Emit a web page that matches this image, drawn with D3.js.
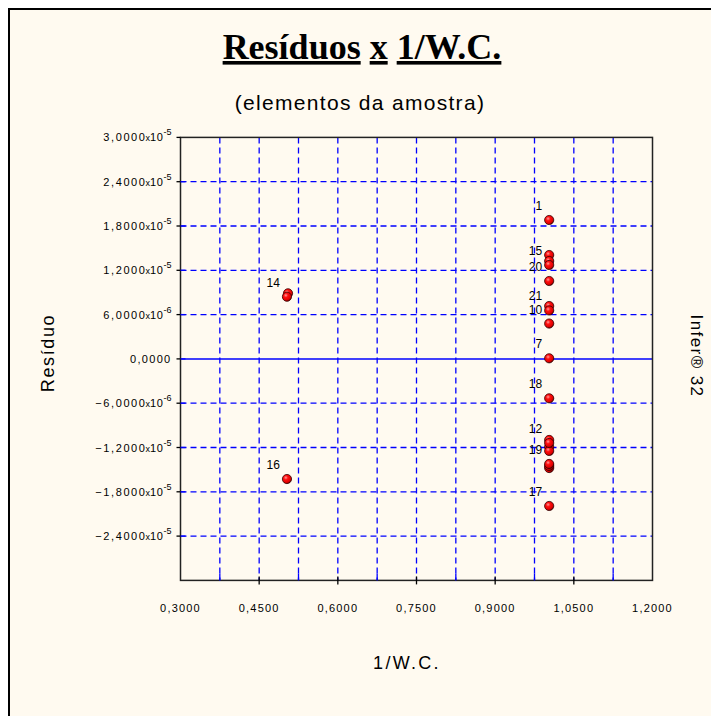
<!DOCTYPE html>
<html>
<head>
<meta charset="utf-8">
<script src="https://cdn.jsdelivr.net/npm/d3@7"></script>
<style>
  html, body { margin: 0; padding: 0; background: #ffffff; }
  svg { display: block; }
</style>
</head>
<body>
<svg id="chart" width="711" height="716"></svg>
<script>
// Sample number, 1/W.C. and residual for each element of the sample
const sampleIds = [1, 2, 3, 4, 5, 6, 7, 8, 9, 10, 11, 12, 13, 14, 15, 16, 17, 18, 19, 20, 21];
const invWC = [1.003, 1.003, 0.505, 1.003, 1.003, 1.003, 1.003, 1.003, 1.003, 1.003, 1.003,
               1.003, 1.003, 0.503, 1.003, 0.503, 1.003, 1.003, 1.003, 1.003, 1.003];
const residuals = [1.881e-5, 1.407e-5, 0.888e-5, 1.326e-5, -1.098e-5, -1.193e-5, 0.008e-5, -1.247e-5, -1.478e-5, 0.479e-5, -1.450e-5,
                   -1.139e-5, 0.716e-5, 0.842e-5, 1.272e-5, -1.627e-5, -1.992e-5, -0.534e-5, -1.423e-5, 1.055e-5, 0.656e-5];
// Labels printed next to the points (the others sit under later labels)
const pointLabels = ["1", "", "", "", "", "", "7", "", "", "10", "",
                     "12", "", "14", "15", "16", "17", "18", "19", "20", "21"];

const xTicks = [0.3, 0.45, 0.6, 0.75, 0.9, 1.05, 1.2];
const xMinorTicks = [0.375, 0.525, 0.675, 0.825, 0.975, 1.125];
const yTicks = [3e-5, 2.4e-5, 1.8e-5, 1.2e-5, 6e-6, 0, -6e-6, -1.2e-5, -1.8e-5, -2.4e-5];

const titleText = "Resíduos x 1/W.C.";
const subtitleText = "(elementos da amostra)";
const xTitle = "1/W.C.";
const yTitle = "Resíduo";
const sideNote = "Infer® 32";

const svg = d3.select("#chart");
const W = 711, H = 716;
const plot = { left: 180.5, right: 652.5, top: 137.4, bottom: 580.4 };

const x = d3.scaleLinear().domain([0.3, 1.2]).range([plot.left, plot.right]);
const y = d3.scaleLinear().domain([-3e-5, 3e-5]).range([plot.bottom, plot.top]);

const cream = "#fffaf0";
const blue = "#0000ff";
const sans = "'Liberation Sans', Arial, sans-serif";

// Panel background and frame
svg.append("rect").attr("x", 9).attr("y", 9).attr("width", W).attr("height", H).attr("fill", cream);
svg.append("path").attr("d", `M9,${H} V9 H${W}`).attr("fill", "none").attr("stroke", "#000").attr("stroke-width", 2);

// Sphere gradient for the markers
const defs = svg.append("defs");
const grad = defs.append("radialGradient").attr("id", "ball").attr("cx", "38%").attr("cy", "35%").attr("r", "65%");
grad.append("stop").attr("offset", "0%").attr("stop-color", "#ff9a9a");
grad.append("stop").attr("offset", "35%").attr("stop-color", "#ff1010");
grad.append("stop").attr("offset", "80%").attr("stop-color", "#e00000");
grad.append("stop").attr("offset", "100%").attr("stop-color", "#700000");

// Titles
const title = svg.append("text")
  .attr("x", 362).attr("y", 59)
  .attr("text-anchor", "middle")
  .attr("font-family", "'Liberation Serif', 'Times New Roman', serif")
  .attr("font-weight", "bold")
  .attr("font-size", 36)
  .attr("fill", "#000");
titleText.split(" ").forEach((w, i, arr) => {
  title.append("tspan").attr("text-decoration", "underline").text(w);
  if (i < arr.length - 1) title.append("tspan").text(" ");
});

svg.append("text")
  .attr("x", 360).attr("y", 110)
  .attr("text-anchor", "middle")
  .attr("font-family", sans)
  .attr("font-size", 21)
  .attr("letter-spacing", 1.3)
  .attr("fill", "#000")
  .text(subtitleText);

// Grid
const grid = svg.append("g");
grid.selectAll("line.gx")
  .data(xTicks.concat(xMinorTicks).filter(v => v > 0.3 && v < 1.2))
  .join("line")
  .attr("x1", d => x(d)).attr("x2", d => x(d))
  .attr("y1", plot.top).attr("y2", plot.bottom)
  .attr("stroke", blue).attr("stroke-width", 1.3).attr("stroke-dasharray", "6,4");
grid.selectAll("line.gy")
  .data(yTicks.filter(v => v !== 0 && v < 3e-5))
  .join("line")
  .attr("x1", plot.left).attr("x2", plot.right)
  .attr("y1", d => y(d)).attr("y2", d => y(d))
  .attr("stroke", blue).attr("stroke-width", 1.3).attr("stroke-dasharray", "6,4");
// Zero line
svg.append("line")
  .attr("x1", plot.left).attr("x2", plot.right)
  .attr("y1", y(0)).attr("y2", y(0))
  .attr("stroke", blue).attr("stroke-width", 1.5);

// Plot frame
svg.append("rect")
  .attr("x", plot.left).attr("y", plot.top)
  .attr("width", plot.right - plot.left).attr("height", plot.bottom - plot.top)
  .attr("fill", "none").attr("stroke", "#222").attr("stroke-width", 1.5);

// X ticks
svg.selectAll("line.xmaj")
  .data(xTicks.filter(v => v > 0.3 && v < 1.2))
  .join("line")
  .attr("x1", d => x(d)).attr("x2", d => x(d))
  .attr("y1", plot.bottom - 4).attr("y2", plot.bottom + 4)
  .attr("stroke", "#000").attr("stroke-width", 1.3);
svg.selectAll("line.xmin")
  .data(xMinorTicks)
  .join("line")
  .attr("x1", d => x(d)).attr("x2", d => x(d))
  .attr("y1", plot.bottom - 7).attr("y2", plot.bottom)
  .attr("stroke", blue).attr("stroke-width", 1.3);

const fmt4 = d3.format(".4f");
svg.selectAll("text.xl")
  .data(xTicks)
  .join("text")
  .attr("x", d => x(d)).attr("y", 612)
  .attr("text-anchor", "middle")
  .attr("font-family", sans)
  .attr("font-size", 11)
  .attr("letter-spacing", 1.2)
  .attr("fill", "#000")
  .text(d => fmt4(d).replace(".", ","));

// Y ticks
svg.selectAll("line.yt")
  .data(yTicks)
  .join("line")
  .attr("x1", plot.left - 4).attr("x2", plot.left)
  .attr("y1", d => y(d)).attr("y2", d => y(d))
  .attr("stroke", "#000").attr("stroke-width", 1.3);
svg.selectAll("line.yti")
  .data(yTicks.filter(v => v < 3e-5))
  .join("line")
  .attr("x1", plot.left).attr("x2", plot.left + 5)
  .attr("y1", d => y(d)).attr("y2", d => y(d))
  .attr("stroke", blue).attr("stroke-width", 1.3);

const yLab = svg.selectAll("text.yl")
  .data(yTicks)
  .join("text")
  .attr("x", 171.5).attr("y", d => y(d) + 4)
  .attr("text-anchor", "end")
  .attr("font-family", sans)
  .attr("font-size", 11)
  .attr("fill", "#000");
yLab.each(function (d) {
  const t = d3.select(this);
  if (d === 0) {
    t.append("tspan").attr("letter-spacing", 1.3).text("0,0000");
    return;
  }
  const e = Math.floor(Math.log10(Math.abs(d)));
  const m = d / Math.pow(10, e);
  t.append("tspan").attr("letter-spacing", 1.6).text(fmt4(m).replace(".", ","));
  t.append("tspan").attr("font-size", 9).attr("dx", -1).text("x");
  t.append("tspan").attr("letter-spacing", 0.6).text("10");
  t.append("tspan").attr("font-size", 9).attr("dy", -6).text(String(e));
});

// Points
const points = sampleIds.map((id, i) => ({ id, x: invWC[i], y: residuals[i], label: pointLabels[i] }));
svg.append("g").selectAll("circle")
  .data(points)
  .join("circle")
  .attr("cx", d => x(d.x)).attr("cy", d => y(d.y))
  .attr("r", 4.6)
  .attr("fill", "url(#ball)")
  .attr("stroke", "#3a0000").attr("stroke-width", 0.8);

svg.append("g").selectAll("text")
  .data(points.filter(d => d.label !== ""))
  .join("text")
  .attr("x", d => x(d.x) - 7).attr("y", d => y(d.y) - 10)
  .attr("text-anchor", "end")
  .attr("font-family", sans)
  .attr("font-size", 12)
  .attr("fill", "#000")
  .text(d => d.label);

// Axis titles
svg.append("text")
  .attr("x", 407).attr("y", 669)
  .attr("text-anchor", "middle")
  .attr("font-family", sans)
  .attr("font-size", 18)
  .attr("letter-spacing", 2.3)
  .attr("fill", "#000")
  .text(xTitle);

svg.append("text")
  .attr("transform", "translate(54,353) rotate(-90)")
  .attr("text-anchor", "middle")
  .attr("font-family", sans)
  .attr("font-size", 18)
  .attr("letter-spacing", 1.6)
  .attr("fill", "#000")
  .text(yTitle);

svg.append("text")
  .attr("transform", "translate(691,356) rotate(90)")
  .attr("text-anchor", "middle")
  .attr("font-family", sans)
  .attr("font-size", 17)
  .attr("letter-spacing", 1.4)
  .attr("fill", "#000")
  .text(sideNote);
</script>
</body>
</html>
